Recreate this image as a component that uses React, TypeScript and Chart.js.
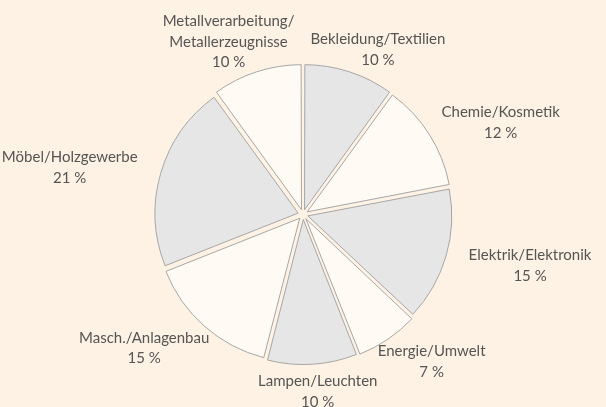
import React, { useEffect, useRef } from "react";
import { Chart, registerables } from "chart.js";

Chart.register(...registerables);

const categories: string[][] = [
  ["Bekleidung/Textilien"],
  ["Chemie/Kosmetik"],
  ["Elektrik/Elektronik"],
  ["Energie/Umwelt"],
  ["Lampen/Leuchten"],
  ["Masch./Anlagenbau"],
  ["Möbel/Holzgewerbe"],
  ["Metallverarbeitung/", "Metallerzeugnisse"],
];
const shares: number[] = [10, 12, 15, 7, 10, 15, 21, 10];
const fills: string[] = [
  "#e6e6e6", "#fffbf4", "#e6e6e6", "#fffbf4",
  "#e6e6e6", "#fffbf4", "#e6e6e6", "#fffbf4",
];

const BG = "#fdf2e3";
const FONT = "15px Lato, 'Open Sans', sans-serif";
const LINE_H = 20.5;

const labelPlugin = {
  id: "outerLabels",
  afterDraw(chart: any) {
    const ctx = chart.ctx;
    const meta = chart.getDatasetMeta(0);
    ctx.save();
    ctx.font = FONT;
    ctx.fillStyle = "#555555";
    ctx.textAlign = "center";
    ctx.textBaseline = "middle";
    meta.data.forEach((arc: any, i: number) => {
      const { x, y, startAngle, endAngle, outerRadius } = arc.getProps(
        ["x", "y", "startAngle", "endAngle", "outerRadius"],
        true
      );
      const a = (startAngle + endAngle) / 2;
      const lines = [...categories[i], `${shares[i]} %`];
      const w = Math.max(...lines.map((l) => ctx.measureText(l).width));
      const h = lines.length * LINE_H;
      const rx = outerRadius + 32;
      const ry = outerRadius + 16;
      const px = x + rx * Math.cos(a);
      const py = y + ry * Math.sin(a);
      const cx = px + (w / 2) * Math.cos(a);
      const cy = py + (h / 2) * 0.8 * Math.sin(a) + 2;
      lines.forEach((l, k) => {
        ctx.fillText(l, cx, cy - h / 2 + LINE_H * (k + 0.5));
      });
    });
    ctx.restore();
  },
};

export default function App() {
  const ref = useRef<HTMLCanvasElement | null>(null);
  useEffect(() => {
    document.body.style.margin = "0";
    document.body.style.background = BG;
    const chart = new Chart(ref.current as HTMLCanvasElement, {
      type: "pie",
      data: {
        labels: categories.map((c) => c.join(" ")),
        datasets: [
          {
            data: shares,
            backgroundColor: fills,
            borderColor: "#a6a6a6",
            borderWidth: 1,
            offset: 20,
          },
        ],
      },
      options: {
        animation: false,
        responsive: false,
        radius: 143,
        layout: { padding: { top: 22, bottom: 0, left: 0, right: 0 } },
        plugins: {
          legend: { display: false },
          tooltip: { enabled: false },
        },
      } as any,
      plugins: [labelPlugin],
    });
    return () => chart.destroy();
  }, []);
  return (
    <div style={{ width: 606, height: 407, background: BG }}>
      <canvas ref={ref} width={606} height={407} />
    </div>
  );
}
